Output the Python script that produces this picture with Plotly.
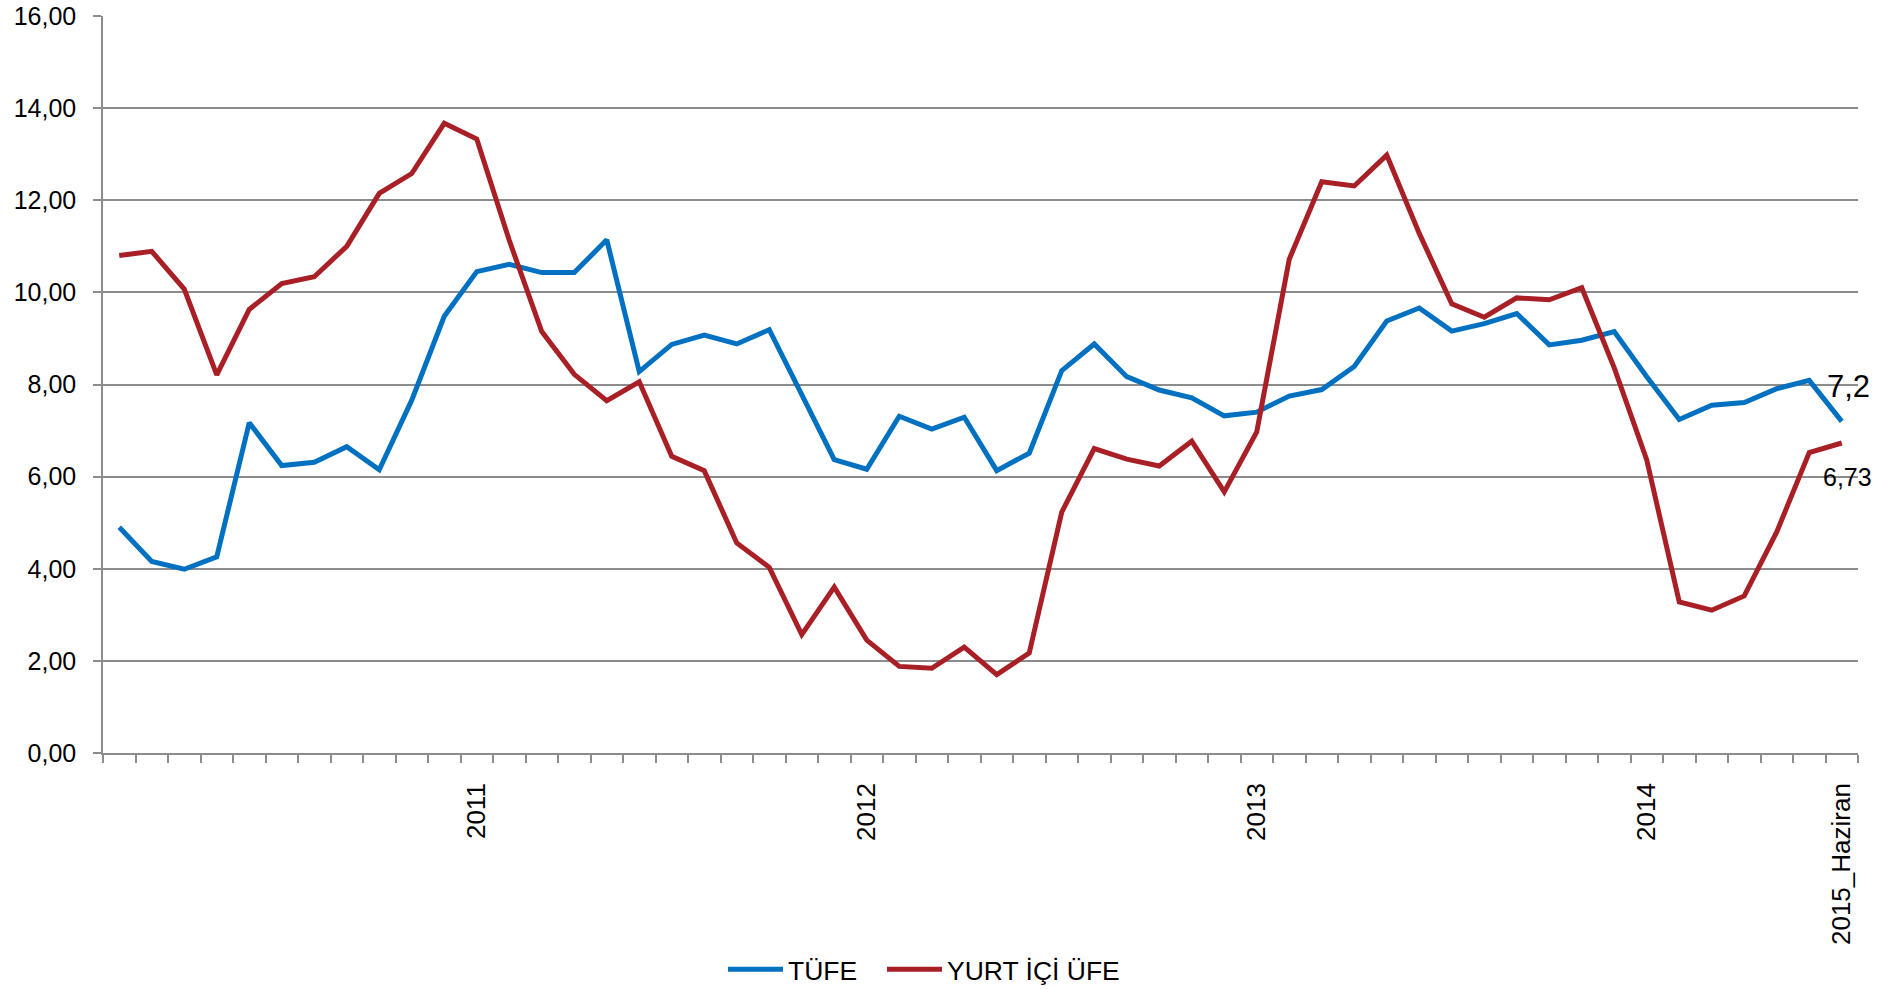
import plotly.graph_objects as go

# Categories: monthly, Jan 2011 .. Jun 2015
month_names = ["Ocak", "Şubat", "Mart", "Nisan", "Mayıs", "Haziran",
               "Temmuz", "Ağustos", "Eylül", "Ekim", "Kasım", "Aralık"]
years = [2011, 2012, 2013, 2014]
categories = [f"{y}_{m}" for y in years for m in month_names] + \
             [f"2015_{m}" for m in month_names[:6]]

# Visible tick labels (category -> label)
tick_labels = {
    "2011_Aralık": "2011",
    "2012_Aralık": "2012",
    "2013_Aralık": "2013",
    "2014_Aralık": "2014",
    "2015_Haziran": "2015_Haziran",
}

# TÜFE (annual % change)
tufe_2011 = [4.90, 4.16, 3.99, 4.26, 7.17, 6.24, 6.31, 6.65, 6.15, 7.66, 9.48, 10.45]
tufe_2012 = [10.61, 10.43, 10.43, 11.14, 8.28, 8.87, 9.07, 8.88, 9.19, 7.80, 6.37, 6.16]
tufe_2013 = [7.31, 7.03, 7.29, 6.13, 6.51, 8.30, 8.88, 8.17, 7.88, 7.71, 7.32, 7.40]
tufe_2014 = [7.75, 7.89, 8.39, 9.38, 9.66, 9.16, 9.32, 9.54, 8.86, 8.96, 9.15, 8.17]
tufe_2015 = [7.24, 7.55, 7.61, 7.91, 8.09, 7.20]

# YURT İÇİ ÜFE (annual % change)
ufe_2011 = [10.80, 10.89, 10.07, 8.21, 9.63, 10.19, 10.34, 11.00, 12.15, 12.58, 13.67, 13.33]
ufe_2012 = [11.13, 9.15, 8.22, 7.65, 8.06, 6.44, 6.13, 4.56, 4.03, 2.57, 3.60, 2.45]
ufe_2013 = [1.88, 1.84, 2.30, 1.70, 2.17, 5.23, 6.61, 6.38, 6.23, 6.77, 5.67, 6.97]
ufe_2014 = [10.72, 12.40, 12.31, 12.98, 11.28, 9.75, 9.46, 9.88, 9.84, 10.10, 8.36, 6.36]
ufe_2015 = [3.28, 3.10, 3.41, 4.80, 6.52, 6.73]

tufe = tufe_2011 + tufe_2012 + tufe_2013 + tufe_2014 + tufe_2015
ufe = ufe_2011 + ufe_2012 + ufe_2013 + ufe_2014 + ufe_2015

FONT = "Liberation Sans, Arial, sans-serif"
GRID = "#8C8C8C"
BLUE = "#0070C0"
RED = "#A91F26"

fig = go.Figure()
fig.add_trace(go.Scatter(x=categories, y=tufe, mode="lines", name="TÜFE",
                         line=dict(color=BLUE, width=5), legend="legend"))
fig.add_trace(go.Scatter(x=categories, y=ufe, mode="lines", name="YURT İÇİ ÜFE",
                         line=dict(color=RED, width=5), legend="legend2"))

fig.add_annotation(x=categories[-1], y=tufe[-1],
                   text=f"{tufe[-1]:.1f}".replace(".", ","),
                   showarrow=False, xshift=7, yshift=35,
                   font=dict(family=FONT, size=31, color="black"))
fig.add_annotation(x=categories[-1], y=ufe[-1],
                   text=f"{ufe[-1]:.2f}".replace(".", ","),
                   showarrow=False, xshift=6, yshift=-34,
                   font=dict(family=FONT, size=25, color="black"))

legend_common = dict(orientation="h", xref="container", yref="container",
                     xanchor="left", y=19.5 / 989, yanchor="middle",
                     itemwidth=55,
                     font=dict(family=FONT, size=26.5, color="black"),
                     bgcolor="rgba(0,0,0,0)")

fig.update_layout(
    width=1903, height=989,
    margin=dict(l=103, r=45, t=16, b=236, autoexpand=False),
    paper_bgcolor="white", plot_bgcolor="white",
    separators=",.",
    font=dict(family=FONT, size=25, color="black"),
    showlegend=True,
    legend=dict(x=723 / 1903, **legend_common),
    legend2=dict(x=882 / 1903, **legend_common),
    xaxis=dict(type="category", categoryorder="array", categoryarray=categories,
               range=[-0.5, len(categories) - 0.5], automargin=False,
               tickmode="array", tickvals=categories,
               ticktext=[tick_labels.get(c, "") for c in categories],
               tickson="boundaries", ticks="outside", ticklen=8,
               tickcolor=GRID, tickwidth=1.5,
               showline=True, linecolor=GRID, linewidth=1.5,
               showgrid=False, zeroline=False, tickangle=-90,
               ticklabelstandoff=18,
               tickfont=dict(family=FONT, size=26, color="black")),
    yaxis=dict(range=[0, 16], dtick=2, tick0=0, tickformat=".2f", automargin=False,
               ticks="outside", ticklen=8, tickcolor=GRID, tickwidth=1.5,
               showline=True, linecolor=GRID, linewidth=1.5,
               showgrid=True, gridcolor=GRID, gridwidth=1.5,
               zeroline=False, ticklabelstandoff=12,
               tickfont=dict(family=FONT, size=25, color="black")),
)

fig.write_html("out.html", config={"displayModeBar": False},
               post_script="document.body.style.margin='0';")
